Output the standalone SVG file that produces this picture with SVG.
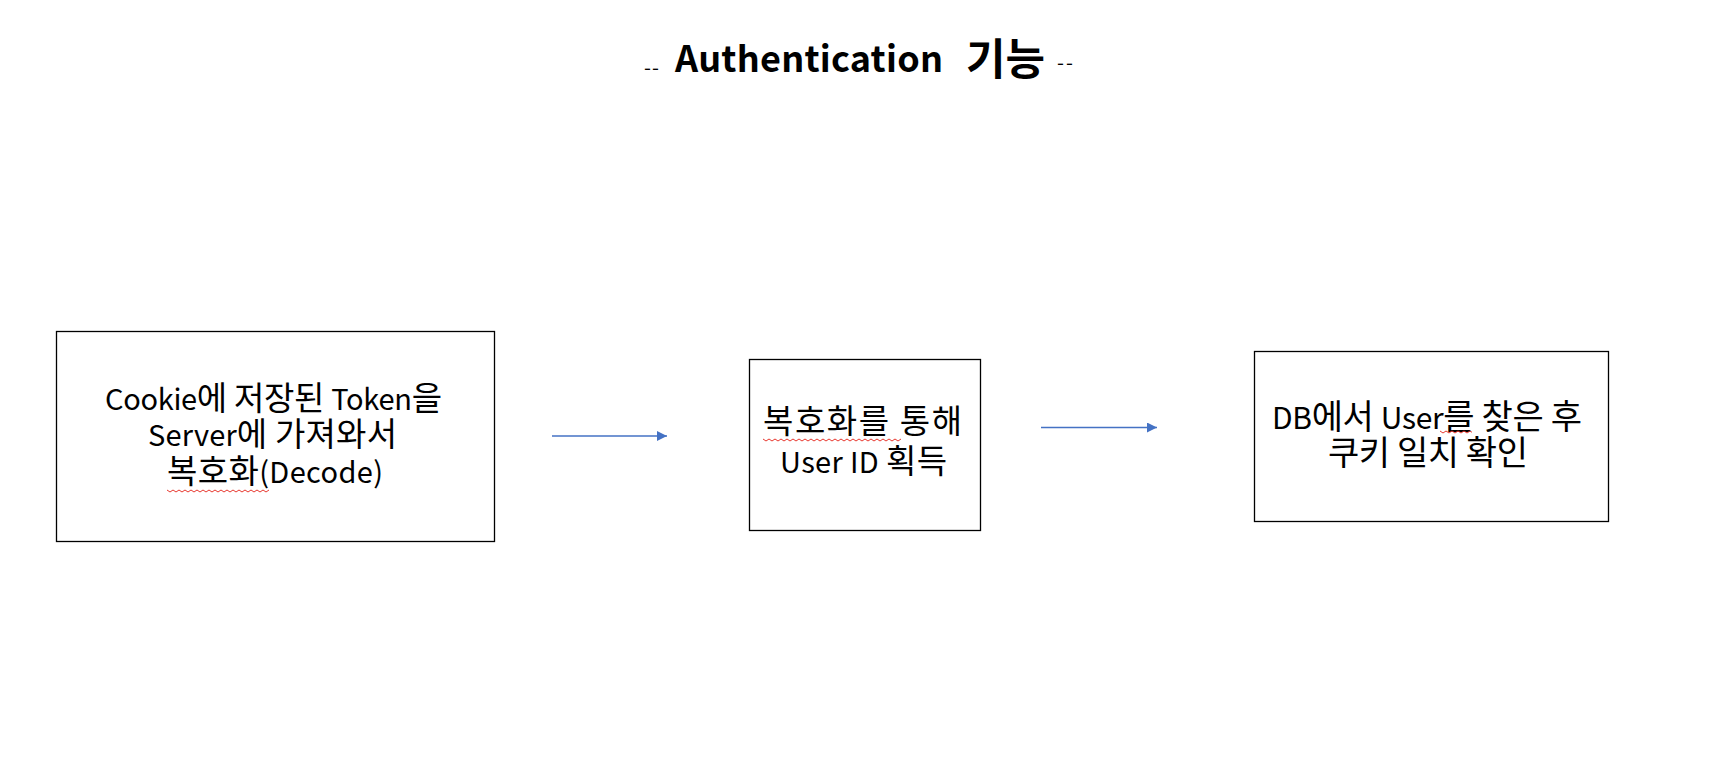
<svg xmlns="http://www.w3.org/2000/svg" width="1730" height="772" viewBox="0 0 1730 772">
<style>
.box{fill:#fff;stroke:#000;stroke-width:1.3}
.t{font-family:"Noto Sans CJK KR","Noto Sans",sans-serif;font-size:29px;fill:#000;text-anchor:middle}
.k{font-size:33px}
.t3{font-size:30px}
.k3{font-size:34px}
.h{font-family:"Noto Sans CJK KR","Noto Sans",sans-serif;fill:#000}
.conn{stroke:#4472C4;stroke-width:1.3;fill:none}
.wavy{stroke:#E8382F;stroke-width:1;fill:none}
</style>
<defs>
<marker id="ah" markerWidth="10" markerHeight="10" refX="10" refY="5" orient="auto" markerUnits="userSpaceOnUse">
<path d="M0,0 L10,5 L0,10 Z" fill="#4472C4"/>
</marker>
</defs>
<rect width="1730" height="772" fill="#fff"/>
<g id="title">
<text class="h" x="644" y="75" font-size="20" textLength="15">--</text>
<text class="h" x="675" y="72" font-size="36" font-weight="bold" textLength="268" lengthAdjust="spacing">Authentication</text>
<text class="h" x="966" y="75" font-size="43" font-weight="bold" textLength="79" lengthAdjust="spacingAndGlyphs">기능</text>
<text class="h" x="1057" y="70" font-size="20" textLength="16">--</text>
</g>
<g id="node1">
<rect class="box" x="56.5" y="331.5" width="438" height="210"/>
<text class="t" x="273.5" y="410" textLength="337">Cookie<tspan class="k">에 저장된 </tspan>Token<tspan class="k">을</tspan></text>
<text class="t" x="272.5" y="446" textLength="249">Server<tspan class="k">에 가져와서</tspan></text>
<text class="t" x="275" y="483" textLength="216"><tspan class="k">복호화</tspan>(Decode)</text>
<path class="wavy" d="M167,490 l3,2 l3,-2 l3,2 l3,-2 l3,2 l3,-2 l3,2 l3,-2 l3,2 l3,-2 l3,2 l3,-2 l3,2 l3,-2 l3,2 l3,-2 l3,2 l3,-2 l3,2 l3,-2 l3,2 l3,-2 l3,2 l3,-2 l3,2 l3,-2 l3,2 l3,-2 l3,2 l3,-2 l3,2 l3,-2 l3,2 l3,-2"/>
</g>
<g id="node2">
<rect class="box" x="749.5" y="359.5" width="231" height="171"/>
<text class="t" x="862.5" y="433" textLength="199"><tspan class="k">복호화를 통해</tspan></text>
<text class="t" x="863.5" y="473" textLength="167">User ID <tspan class="k">획득</tspan></text>
<path class="wavy" d="M763,439 l3,2 l3,-2 l3,2 l3,-2 l3,2 l3,-2 l3,2 l3,-2 l3,2 l3,-2 l3,2 l3,-2 l3,2 l3,-2 l3,2 l3,-2 l3,2 l3,-2 l3,2 l3,-2 l3,2 l3,-2 l3,2 l3,-2 l3,2 l3,-2 l3,2 l3,-2 l3,2 l3,-2 l3,2 l3,-2 l3,2 l3,-2 l3,2 l3,-2 l3,2 l3,-2 l3,2 l3,-2 l3,2 l3,-2 l3,2 l3,-2 l3,2 l3,-2"/>
</g>
<g id="node3">
<rect class="box" x="1254.5" y="351.5" width="354" height="170"/>
<text class="t t3" x="1427" y="429" textLength="310">DB<tspan class="k3">에서 </tspan>User<tspan class="k3">를 찾은 후</tspan></text>
<text class="t t3" x="1428" y="465" textLength="200"><tspan class="k3">쿠키 일치 확인</tspan></text>
<path class="wavy" d="M1440,431 l3,2 l3,-2 l3,2 l3,-2 l3,2 l3,-2 l3,2 l3,-2 l3,2 l3,-2 l2,1.3"/>
</g>
<g id="connectors">
<line class="conn" x1="552" y1="436" x2="667" y2="436" marker-end="url(#ah)"/>
<line class="conn" x1="1041" y1="427.5" x2="1157" y2="427.5" marker-end="url(#ah)"/>
</g>
</svg>
